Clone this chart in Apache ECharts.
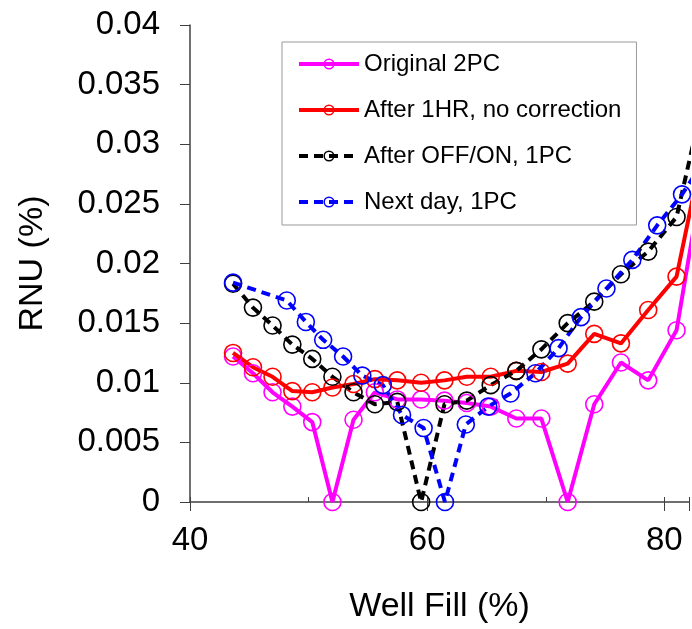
<!DOCTYPE html>
<html>
<head>
<meta charset="utf-8">
<script src="https://cdn.jsdelivr.net/npm/echarts@6/dist/echarts.min.js"></script>
<style>
html,body{margin:0;padding:0;background:#fff;}
#chart{width:692px;height:629px;}
</style>
</head>
<body>
<div id="chart"></div>
<script>
// Well Fill (%) positions shared by the first three series
const wellFill = [43.63,45.31,46.96,48.63,50.31,52.01,53.79,55.59,57.48,59.49,61.46,63.34,65.36,67.52,69.63,71.85,74.09,76.34,78.64,81.03,83.34];
// Well Fill (%) positions of the "Next day" series
const wellFillNextDay = [43.63,48.16,49.77,51.23,52.91,54.53,56.26,57.88,59.70,61.50,63.26,65.15,67.03,69.13,71.08,72.97,75.12,77.30,79.40,81.49,83.6];

const original2PC = [0.0122,0.0108,0.0092,0.0080,0.0067,0,0.0069,0.0092,0.0086,0.0086,0.0085,0.0083,0.0080,0.0070,0.0070,0,0.0082,0.0117,0.0102,0.0144,0.028];
const after1HR = [0.0125,0.0113,0.0105,0.0093,0.0092,0.0096,0.0099,0.0103,0.0102,0.0100,0.0102,0.0105,0.0105,0.0110,0.0109,0.0116,0.0141,0.0133,0.0161,0.0189,0.030];
const afterOffOn = [0.0183,0.0163,0.0148,0.0132,0.0120,0.0105,0.0092,0.0082,0.0084,0,0.0082,0.0085,0.0098,0.0110,0.0128,0.0150,0.0168,0.0191,0.0210,0.0239,0.034];
const nextDay = [0.0184,0.0169,0.0151,0.0136,0.0122,0.0106,0.0098,0.0073,0.0062,0,0.0065,0.0080,0.0091,0.0108,0.0129,0.0155,0.0179,0.0203,0.0232,0.0258,0.029];

const seriesNames = ['Original 2PC','After 1HR, no correction','After OFF/ON, 1PC','Next day, 1PC'];
const xLabels = [40,60,80];
const yTicks = [0,0.005,0.01,0.015,0.02,0.025,0.03,0.035,0.04];

const FONT = '"Liberation Sans", Arial, sans-serif';
const zip = (xs, ys) => xs.map((x, i) => [x, ys[i]]);

function mkSeries(name, xs, ys, color, dashed) {
  return {
    name: name,
    type: 'line',
    data: zip(xs, ys),
    symbol: 'circle',
    symbolSize: 17,
    clip: true,
    itemStyle: { color: 'rgba(255,255,255,0)', borderColor: color, borderWidth: 1.6 },
    lineStyle: { color: color, width: 4, type: dashed ? [9, 6] : 'solid' },
    emphasis: { disabled: true },
    animation: false
  };
}

const chart = echarts.init(document.getElementById('chart'), null, { renderer: 'canvas' });
chart.setOption({
  animation: false,
  backgroundColor: '#fff',
  textStyle: { fontFamily: FONT },
  grid: { left: 190, right: 0, top: 25, bottom: 125, containLabel: false },
  legend: {
    orient: 'vertical',
    left: 282, top: 42,
    data: seriesNames,
    borderColor: '#999',
    borderWidth: 1,
    padding: [10, 15, 11, 15],
    itemGap: 22,
    itemWidth: 60,
    itemHeight: 12,
    lineStyle: { width: 4 },
    itemStyle: { borderWidth: 1.5 },
    textStyle: { fontFamily: FONT, fontSize: 24, color: '#000', lineHeight: 24 }
  },
  xAxis: [{
    type: 'value', min: 40, max: 82.08, interval: 20,
    name: 'Well Fill (%)', nameLocation: 'middle', nameGap: 88,
    nameTextStyle: { fontFamily: FONT, fontSize: 34, color: '#000' },
    axisLine: { show: true, onZero: false, lineStyle: { color: '#404040', width: 1.5 } },
    axisTick: { show: true, inside: false, length: 9, lineStyle: { color: '#404040' } },
    axisLabel: { fontFamily: FONT, fontSize: 33, color: '#000', margin: 22,
      formatter: v => (xLabels.indexOf(Math.round(v)) >= 0 ? String(Math.round(v)) : '') },
    splitLine: { show: false }
  }, {
    type: 'value', min: 40, max: 82.08, interval: 10, position: 'bottom',
    axisLine: { show: false },
    axisTick: { show: true, inside: true, length: 5, lineStyle: { color: '#404040' } },
    axisLabel: { show: false },
    splitLine: { show: false }
  }],
  yAxis: {
    type: 'value', min: 0, max: 0.04, interval: 0.005,
    name: 'RNU (%)', nameLocation: 'middle', nameGap: 140,
    nameTextStyle: { fontFamily: FONT, fontSize: 34, color: '#000' },
    axisLine: { show: true, lineStyle: { color: '#404040', width: 1.5 } },
    axisTick: { show: true, inside: false, length: 10, lineStyle: { color: '#404040' } },
    axisLabel: { fontFamily: FONT, fontSize: 33, color: '#000', margin: 30,
      formatter: v => { const t = yTicks.find(k => Math.abs(k - v) < 1e-9); return t === undefined ? '' : String(t); } },
    splitLine: { show: false }
  },
  series: [
    mkSeries(seriesNames[0], wellFill, original2PC, '#ff00ff', false),
    mkSeries(seriesNames[1], wellFill, after1HR, '#ff0000', false),
    mkSeries(seriesNames[2], wellFill, afterOffOn, '#000000', true),
    mkSeries(seriesNames[3], wellFillNextDay, nextDay, '#0000ff', true)
  ]
});
</script>
</body>
</html>
